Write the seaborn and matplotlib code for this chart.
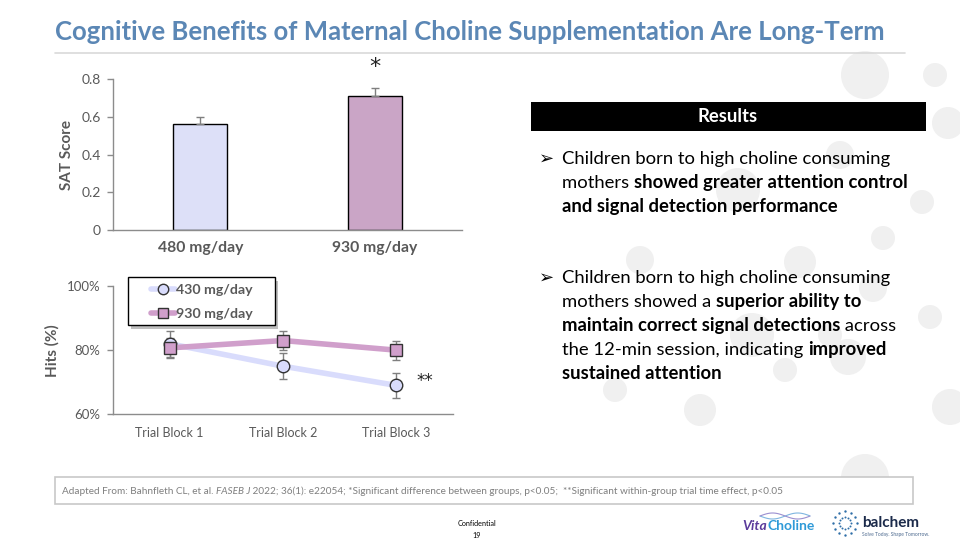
import numpy as np
import pandas as pd
import matplotlib
matplotlib.use("Agg")
import matplotlib.pyplot as plt
from matplotlib.lines import Line2D
from matplotlib.patches import Circle, Rectangle
import seaborn as sns

# ---------------- data ----------------
bar_groups = ["480 mg/day", "930 mg/day"]
bar_values = [0.56, 0.71]
bar_errors = [0.04, 0.04]
bar_yticks = [0, 0.2, 0.4, 0.6, 0.8]

blocks = ["Trial Block 1", "Trial Block 2", "Trial Block 3"]
low_label = "430 mg/day"
high_label = "930 mg/day"
low_hits = [82, 75, 69]
low_err = [4, 4, 4]
high_hits = [80.7, 83, 80]
high_err = [3, 3, 3]
hit_yticks = [60, 80, 100]

title = "Cognitive Benefits of Maternal Choline Supplementation Are Long-Term"
footnote_runs = [("Adapted From: Bahnfleth CL, et al. ", "normal"),
                 ("FASEB J", "italic"),
                 (" 2022; 36(1): e22054; *Significant difference between groups, p<0.05;  **Significant within-group trial time effect, p<0.05", "normal")]

bullet1 = [[("Children born to high choline consuming", "normal")],
           [("mothers ", "normal"), ("showed greater attention control", "bold")],
           [("and signal detection performance", "bold")]]
bullet2 = [[("Children born to high choline consuming", "normal")],
           [("mothers showed a ", "normal"), ("superior ability to", "bold")],
           [("maintain correct signal detections", "bold"), (" across", "normal")],
           [("the 12-min session, indicating ", "normal"), ("improved", "bold")],
           [("sustained attention", "bold")]]

# ---------------- style ----------------
sns.set_theme(style="white")
plt.rcParams['font.family'] = ['Lato', 'DejaVu Sans']
GRAY = "#595959"
SPINE = "#8c8c8c"
C_LOW = "#D9DCFC"
C_HIGH = "#D09FCB"
TITLE_C = "#5B87B5"

W, H = 960, 540
fig = plt.figure(figsize=(9.6, 5.4), dpi=100)
fig.patch.set_facecolor("white")

def fx(px):
    return px / W

def fy(py):
    return 1 - py / H

# background decorative circles
bg = fig.add_axes([0, 0, 1, 1], zorder=-10)
bg.set_xlim(0, W)
bg.set_ylim(H, 0)
bg.axis("off")
circles = [(865, 75, 24), (948, 123, 16), (922, 202, 12), (883, 238, 12),
           (873, 288, 14), (930, 317, 12), (848, 357, 18), (950, 407, 18),
           (865, 478, 24), (738, 190, 22), (800, 262, 16), (752, 335, 22),
           (830, 335, 12), (640, 260, 14), (700, 410, 16), (615, 390, 12),
           (840, 155, 14), (785, 370, 12), (935, 75, 12)]
for cx, cy, r in circles:
    bg.add_patch(Circle((cx, cy), r, color="#F0F0F0", lw=0))

# title
fig.text(fx(55), fy(32), title, fontsize=18.5, fontweight="bold", color=TITLE_C,
         ha="left", va="center")
fig.add_artist(Line2D([fx(55), fx(905)], [fy(53), fy(53)], color="#D9D9D9", lw=1.2))

# ---------------- top bar chart ----------------
ax1 = fig.add_axes([fx(113), fy(230.3), fx(462 - 113), (230.3 - 79) / H])
df_bar = pd.DataFrame({"group": bar_groups, "value": bar_values})
sns.barplot(data=df_bar, x="group", y="value", hue="group",
            palette=[C_LOW, C_HIGH], edgecolor="black", linewidth=1,
            width=0.31, errorbar=None, legend=False, ax=ax1)
ax1.errorbar(range(len(bar_values)), bar_values,
             yerr=[np.zeros(len(bar_errors)), bar_errors], fmt="none",
             ecolor="#7f7f7f", elinewidth=1, capsize=3, capthick=1, zorder=1)
ax1.set_ylim(0, 0.8)
ax1.set_xlim(-0.5, 1.5)
ax1.set_yticks(bar_yticks)
ax1.set_yticklabels(["0", "0.2", "0.4", "0.6", "0.8"])
ax1.set_xticks(range(len(bar_groups)))
ax1.set_xticklabels(bar_groups, fontweight="bold")
ax1.set_xticks([-0.5, 0.5, 1.5], minor=True)
ax1.tick_params(axis="x", which="major", length=0, pad=8, labelsize=11.3, labelcolor=GRAY)
ax1.tick_params(axis="x", which="minor", length=5, color=SPINE, width=1, direction="out")
ax1.tick_params(axis="y", length=4, color=SPINE, width=1, direction="out",
                labelsize=10, labelcolor=GRAY, left=True, pad=5)
ax1.set_xlabel("")
ax1.set_ylabel("SAT Score", fontsize=11, fontweight="bold", color=GRAY, labelpad=5)
for s in ["top", "right"]:
    ax1.spines[s].set_visible(False)
for s in ["left", "bottom"]:
    ax1.spines[s].set_color(SPINE)
    ax1.spines[s].set_linewidth(1)
ax1.text(1, 0.865, "*", ha="center", va="center", fontsize=16, color="#222222",
         clip_on=False, family=["DejaVu Sans"])

# ---------------- bottom line chart ----------------
ax2 = fig.add_axes([fx(113), fy(414.3), fx(453 - 113), (414.3 - 286) / H])
xs = np.arange(len(blocks))
df_line = pd.DataFrame({"block": np.concatenate([xs, xs]),
                        "hits": low_hits + high_hits,
                        "dose": [low_label] * 3 + [high_label] * 3})
ax2.errorbar(xs, low_hits, yerr=low_err, fmt="none", ecolor="#7f7f7f",
             elinewidth=1, capsize=3, capthick=1, zorder=1)
ax2.errorbar(xs, high_hits, yerr=high_err, fmt="none", ecolor="#7f7f7f",
             elinewidth=1, capsize=3, capthick=1, zorder=1)
sns.lineplot(data=df_line[df_line.dose == low_label], x="block", y="hits",
             color=C_LOW, lw=4, marker="o", markersize=9,
             markerfacecolor=C_LOW, markeredgecolor="#333333", markeredgewidth=1,
             ax=ax2, zorder=3, legend=False)
sns.lineplot(data=df_line[df_line.dose == high_label], x="block", y="hits",
             color=C_HIGH, lw=4, marker="s", markersize=9,
             markerfacecolor=C_HIGH, markeredgecolor="#333333", markeredgewidth=1,
             ax=ax2, zorder=4, legend=False)
ax2.set_ylim(60, 100)
ax2.set_xlim(-0.5, 2.5)
ax2.set_yticks(hit_yticks)
ax2.set_yticklabels([f"{v}%" for v in hit_yticks])
ax2.set_xticks(xs)
ax2.set_xticklabels(blocks)
ax2.set_xticks([-0.5, 0.5, 1.5, 2.5], minor=True)
ax2.tick_params(axis="x", which="major", length=0, pad=9, labelsize=9, labelcolor=GRAY)
ax2.tick_params(axis="x", which="minor", length=5, color=SPINE, width=1, direction="out")
ax2.tick_params(axis="y", length=4, color=SPINE, width=1, direction="out",
                labelsize=9.5, labelcolor=GRAY, left=True, pad=5)
ax2.set_xlabel("")
ax2.set_ylabel("Hits (%)", fontsize=11, fontweight="bold", color=GRAY, labelpad=5)
for s in ["top", "right"]:
    ax2.spines[s].set_visible(False)
for s in ["left", "bottom"]:
    ax2.spines[s].set_color(SPINE)
    ax2.spines[s].set_linewidth(1)
ax2.text(2.25, low_hits[2] + 1.5, "**", ha="center", va="center", fontsize=12,
         color="#222222", clip_on=False, family=["DejaVu Sans"])

# legend: frame drawn as a shadowed box inside ax2, entries via matplotlib legend
ax2.add_patch(Rectangle((fx(131), fy(329)), fx(275 - 128), (325 - 277) / H,
                        transform=fig.transFigure, facecolor="#BFBFBF",
                        edgecolor="none", zorder=8, clip_on=False))
ax2.add_patch(Rectangle((fx(128), fy(325)), fx(275 - 128), (325 - 277) / H,
                        transform=fig.transFigure, facecolor="white",
                        edgecolor="black", lw=1, zorder=9, clip_on=False))
handles = [Line2D([], [], color=C_LOW, lw=4, marker="o", markersize=7.5,
                  markerfacecolor=C_LOW, markeredgecolor="#333333"),
           Line2D([], [], color=C_HIGH, lw=4, marker="s", markersize=7.5,
                  markerfacecolor=C_HIGH, markeredgecolor="#333333")]
leg = ax2.legend(handles, [low_label, high_label], loc="center left",
                 bbox_to_anchor=(fx(151), fy(302)), bbox_transform=fig.transFigure,
                 frameon=False, borderaxespad=0, borderpad=0,
                 handlelength=1.7, handletextpad=0.05,
                 labelspacing=0.9, prop={"weight": "bold", "size": 10.2})
for t in leg.get_texts():
    t.set_color(GRAY)
leg.set_zorder(10)

# ---------------- right text panel ----------------
fig.add_artist(Rectangle((fx(531), fy(131)), fx(926 - 531), (131 - 102) / H,
                         transform=fig.transFigure, facecolor="black",
                         edgecolor="none"))
fig.text(fx(728), fy(117), "Results", ha="center", va="center", fontsize=13.3,
         fontweight="bold", color="white")

renderer = fig.canvas.get_renderer()

def rich_line(x0, y, runs, size, color="black"):
    x = x0
    for txt, style in runs:
        kw = {}
        if style == "bold":
            kw["fontweight"] = "bold"
        elif style == "italic":
            kw["fontstyle"] = "italic"
        t = fig.text(fx(x), fy(y), txt, ha="left", va="baseline", fontsize=size,
                     color=color, **kw)
        bb = t.get_window_extent(renderer=renderer)
        x += bb.width

def bullet(y0, lines, step=24):
    fig.text(fx(539), fy(y0), "\u27a2", ha="left", va="baseline", fontsize=13,
             color="black", family=["DejaVu Sans"])
    for i, runs in enumerate(lines):
        rich_line(562, y0 + i * step, runs, 13.3)

bullet(164, bullet1)
bullet(283, bullet2)

# ---------------- footnote ----------------
fig.add_artist(Rectangle((fx(55), fy(504)), fx(913 - 55), (504 - 477) / H,
                         transform=fig.transFigure, facecolor="white",
                         edgecolor="#C8C8C8", lw=1.2))
rich_line(62, 494, footnote_runs, 7.2, color="#7f7f7f")

fig.text(fx(477), fy(523), "Confidential", ha="center", va="center", fontsize=5.2,
         color="black")
fig.text(fx(477), fy(535), "19", ha="center", va="center", fontsize=5.2,
         color="black")

# logos (text approximations)
fig.text(fx(742), fy(530), "Vita", ha="left", va="baseline", fontsize=10,
         fontweight="bold", fontstyle="italic", color="#5B3B9B")
fig.text(fx(768), fy(530), "Choline", ha="left", va="baseline", fontsize=10,
         fontweight="bold", color="#2E9AD8")
wx = np.linspace(760, 810, 50)
bg.plot(wx, 516 + 3 * np.sin((wx - 760) / 8), color="#7FB6E0", lw=0.8)
bg.plot(wx, 516 - 3 * np.sin((wx - 760) / 8), color="#9B8FD0", lw=0.8)
ang = np.linspace(0, 2 * np.pi, 12, endpoint=False)
for r in (6, 12):
    bg.scatter(845 + r * np.cos(ang), 523 + r * np.sin(ang), s=2 if r == 6 else 3,
               color="#2F6FA8", lw=0)
fig.text(fx(862), fy(527), "balchem", ha="left", va="baseline", fontsize=11,
         fontweight="bold", color="#1B2A4A")
fig.text(fx(862), fy(536), "Solve Today. Shape Tomorrow.", ha="left",
         va="baseline", fontsize=3.5, color="#4D6A8F")

fig.savefig("out.png", dpi=100, facecolor="white")
